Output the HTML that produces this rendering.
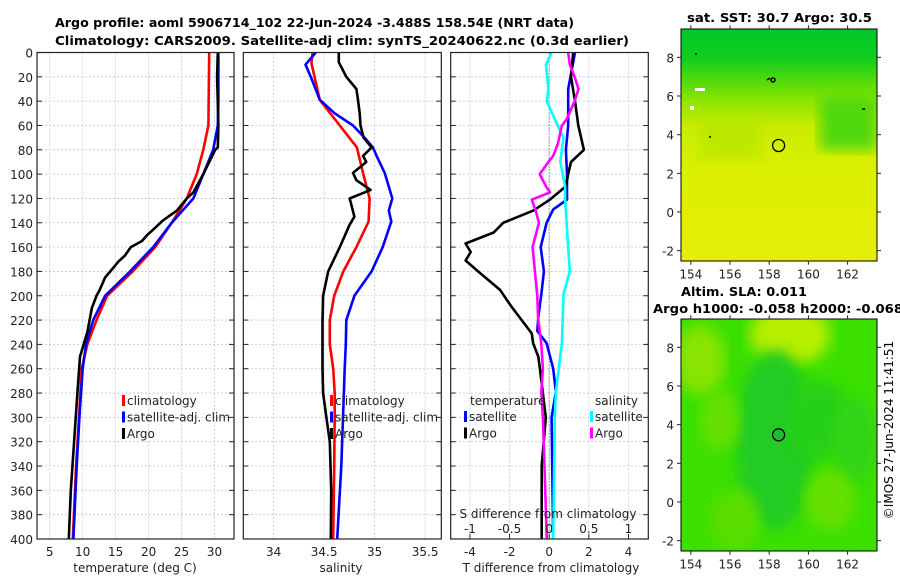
<!DOCTYPE html>
<html><head><meta charset="utf-8"><style>
body{margin:0;background:#fff}
svg{display:block;font-family:"DejaVu Sans","Liberation Sans",sans-serif}
</style></head><body>
<svg id="s" width="900" height="580" viewBox="0 0 900 580">
<defs>
<linearGradient id="sstg" x1="0" y1="0" x2="0" y2="1">
<stop offset="0" stop-color="#00c828"/><stop offset="0.12" stop-color="#10cc20"/><stop offset="0.2" stop-color="#40d810"/><stop offset="0.3" stop-color="#88e400"/><stop offset="0.42" stop-color="#c8ec00"/><stop offset="0.6" stop-color="#daf000"/><stop offset="1" stop-color="#e6ee08"/>
</linearGradient>
<filter id="bl"><feGaussianBlur stdDeviation="7"/></filter>
<clipPath id="c1"><rect x="681" y="29" width="196" height="232"/></clipPath>
<clipPath id="c2"><rect x="681" y="319" width="196" height="232"/></clipPath>
</defs>
<text x="55" y="27" textLength="519" lengthAdjust="spacingAndGlyphs" font-size="12.5" font-weight="bold">Argo profile: aoml 5906714_102 22-Jun-2024 -3.488S 158.54E (NRT data)</text>
<text x="55" y="45" textLength="574" lengthAdjust="spacingAndGlyphs" font-size="12.5" font-weight="bold">Climatology: CARS2009. Satellite-adj clim: synTS_20240622.nc (0.3d earlier)</text>
<g id="plots"></g>
<g>
<text x="687" y="22" textLength="185" lengthAdjust="spacingAndGlyphs" font-size="12.5" font-weight="bold">sat. SST: 30.7 Argo: 30.5</text>
<g clip-path="url(#c1)">
<rect x="681" y="29" width="196" height="232" fill="url(#sstg)"/>
<rect x="820" y="95" width="57" height="55" fill="#50d810" filter="url(#bl)"/>
<rect x="700" y="120" width="60" height="40" fill="#b0e400" filter="url(#bl)" opacity="0.6"/>
<rect x="695" y="88" width="10" height="3" fill="#fff"/><rect x="690" y="106" width="4" height="4" fill="#fff"/>
</g>
<rect x="681" y="29" width="196" height="232" fill="none" stroke="#000"/>
<circle cx="778.6" cy="145.5" r="6" fill="none" stroke="#000" stroke-width="1.3"/>
<path d="M767 80 l3 -2 M773 78 a2 2 0 1 0 0.1 0 M862 109 h3 M695 54 h2 M709 137 h2" stroke="#000" stroke-width="1.5" fill="none"/>
</g>
<g>
<text x="681" y="296" textLength="126" lengthAdjust="spacingAndGlyphs" font-size="12.5" font-weight="bold">Altim. SLA: 0.011</text>
<text x="653" y="313" textLength="250" lengthAdjust="spacingAndGlyphs" font-size="12.5" font-weight="bold">Argo h1000: -0.058 h2000: -0.068</text>
<g clip-path="url(#c2)">
<rect x="681" y="319" width="196" height="232" fill="#3ce000"/>
<ellipse cx="790" cy="335" rx="40" ry="30" fill="#b8ee00" filter="url(#bl)"/>
<ellipse cx="700" cy="360" rx="25" ry="35" fill="#88e400" filter="url(#bl)"/>
<ellipse cx="775" cy="440" rx="40" ry="90" fill="#20cc20" filter="url(#bl)"/>
<ellipse cx="820" cy="420" rx="30" ry="40" fill="#28d018" filter="url(#bl)"/>
<ellipse cx="855" cy="440" rx="22" ry="45" fill="#30d418" filter="url(#bl)"/>
<ellipse cx="830" cy="500" rx="25" ry="30" fill="#66e000" filter="url(#bl)"/>
<ellipse cx="720" cy="420" rx="20" ry="30" fill="#66e000" filter="url(#bl)"/>
<ellipse cx="735" cy="520" rx="25" ry="30" fill="#5ade00" filter="url(#bl)"/>
</g>
<rect x="681" y="319" width="196" height="232" fill="none" stroke="#000"/>
<circle cx="778.6" cy="434.8" r="6" fill="#22bb33" stroke="#000" stroke-width="1.3"/>
<text transform="translate(893,430) rotate(-90)" text-anchor="middle" font-size="12">©IMOS 27-Jun-2024 11:41:51</text>
</g>
<g id="maps"></g>
</svg>
<script>
// ---- data ----
const tDepthRed=[0,60,80,100,120,140,160,180,200,220,240,260,300,340,400];
const tRed=[29.2,29.07,28.3,27.3,25.8,23.5,21.0,17.6,13.7,12.1,10.7,9.85,9.44,9.0,8.5];
const tDepthBlue=[0,40,60,80,100,120,140,160,180,200,220,240,260,300,340,400];
const tBlue=[30.6,30.6,30.5,29.8,28.3,26.8,23.5,20.7,17.2,13.4,11.6,10.5,10.0,9.5,9.1,8.6];
const tDepthArgo=[0,20,60,78,80,90,100,115,120,130,138,145,150,155,160,167,172,178,185,195,200,210,230,250,280,320,360,400];
const tArgo=[30.5,30.4,30.6,30.5,30.1,29.2,28.3,26.8,25.8,24.3,22.2,20.8,19.8,19.0,17.3,16.4,15.4,14.5,13.4,12.6,12.1,11.4,10.7,9.6,9.2,8.7,8.2,7.9];
const sDepthRed=[0,9,39,60,78,99,120,139,160,180,200,220,240,260,280,300,340,400];
const sRed=[34.385,34.375,34.457,34.655,34.825,34.885,34.95,34.94,34.82,34.69,34.6,34.556,34.556,34.59,34.605,34.605,34.6,34.59];
const sDepthBlue=[0,10,20,39,50,60,70,78,85,99,120,130,139,160,180,200,220,240,260,300,340,400];
const sBlue=[34.418,34.316,34.368,34.457,34.605,34.786,34.9,34.983,35.02,35.1,35.175,35.14,35.165,35.08,34.97,34.8,34.72,34.715,34.704,34.687,34.67,34.63];
const sDepthArgo=[0,8,20,30,39,50,60,70,78,85,90,99,105,113,120,135,142,160,180,200,220,260,280,300,320,360,400];
const sArgo=[34.645,34.645,34.72,34.82,34.835,34.852,34.86,34.89,34.97,34.885,34.918,34.786,34.82,34.96,34.753,34.8,34.75,34.655,34.54,34.49,34.484,34.484,34.49,34.523,34.556,34.57,34.566];
const dtDepthSat=[0,30,60,80,100,121,129,140,160,180,199,218,229,239,260,279,300,400];
const dtSat=[1.3,0.96,0.96,0.84,0.9,0.9,0.2,-0.13,-0.43,-0.27,-0.4,-0.55,-0.6,-0.13,0.2,0.34,0.12,0.2];
const dtDepthArgo=[0,20,40,60,80,90,100,110,121,130,140,148,157,164,171,180,195,209,220,231,239,250,260,279,300,340,400];
const dtArgo=[1.21,1.1,1.3,1.47,1.75,1.1,0.96,0.84,0.03,-0.8,-2.32,-2.8,-4.22,-3.96,-4.22,-3.59,-2.49,-1.9,-1.39,-0.88,-0.81,-0.55,-0.47,-0.33,-0.17,-0.38,-0.38];
const dsDepthSat=[0,10,30,40,55,70,90,110,121,160,180,199,239,279,300,400];
const dsSat=[0.03,-0.04,-0.01,-0.03,0.07,0.18,0.14,0.2,0.2,0.24,0.26,0.18,0.16,0.085,0.07,0.05];
const dsDepthArgo=[0,10,20,30,40,55,60,75,85,90,100,110,115,121,130,140,160,180,200,218,240,260,279,300,400];
const dsArgo=[0.24,0.26,0.32,0.37,0.32,0.22,0.16,0.11,0.05,-0.01,-0.12,-0.04,0.01,-0.22,-0.17,-0.13,-0.21,-0.18,-0.15,-0.14,-0.1,-0.08,-0.1,-0.08,-0.03];
const depthTicks=[0,20,40,60,80,100,120,140,160,180,200,220,240,260,280,300,320,340,360,380,400];
const tTicks=[5,10,15,20,25,30];
const sTicks=[34,34.5,35,35.5];
const dTTicks=[-4,-2,0,2,4];
const dSTicks=[-1,-0.5,0,0.5,1];
const lonTicks=[154,156,158,160,162];
const latTicks=[-2,0,2,4,6,8];

const NS="http://www.w3.org/2000/svg";
const root=document.getElementById('plots');
const Y0=52.5,Y1=539;
const yD=d=>Y0+(Y1-Y0)*d/400;
function mk(tag,attrs,parent){const e=document.createElementNS(NS,tag);for(const k in attrs)e.setAttribute(k,attrs[k]);(parent||root).appendChild(e);return e;}
function txt(x,y,s,attrs,parent){const t=mk('text',Object.assign({x:x,y:y,'font-size':12,fill:'#222'},attrs||{}),parent);t.textContent=s;return t;}
function panel(name,x0,x1,v0,v1,ticks,labels,leftLabels){
  const g=mk('g',{});
  
  
  const xs=v=>x0+(x1-x0)*(v-v0)/(v1-v0);
  ticks.forEach(v=>{const l=mk('line',{x1:xs(v),x2:xs(v),y1:Y0,y2:Y1,stroke:'#b8c4e8','stroke-width':0.8,'stroke-dasharray':'2,2'},g);
    
    });
  depthTicks.forEach(d=>{if(d>0&&d<400){const l=mk('line',{x1:x0,x2:x1,y1:yD(d),y2:yD(d),stroke:'#b8c4e8','stroke-width':0.8,'stroke-dasharray':'2,2'},g);
    
    }
    mk('line',{x1:x0,x2:x0+5,y1:yD(d),y2:yD(d),stroke:'#222'},g);mk('line',{x1:x1-5,x2:x1,y1:yD(d),y2:yD(d),stroke:'#222'},g);
    if(leftLabels){const t=txt(x0-4,yD(d)+5,String(d),{'text-anchor':'end'},g);
      
      }
  });
  return {g,xs};
}
function series(p,depths,vals,color,name,w){
  const pts=depths.map((d,i)=>p.xs(vals[i]).toFixed(1)+','+yD(d).toFixed(1)).join(' ');
  const l=mk('polyline',{points:pts,fill:'none',stroke:color,'stroke-width':w||2.6,'stroke-linejoin':'round'},p.g);
  
  
}
function frame(p,x0,x1){mk('rect',{x:x0,y:Y0,width:x1-x0,height:Y1-Y0,fill:'none',stroke:'#222','stroke-width':1.2},p.g);}
function legend(p,x,y,items){items.forEach((it,i)=>{mk('rect',{x:x,y:y+i*16.5-10,width:3,height:11,fill:it[1]},p.g);
  const t=txt(x+5,y+i*16.5,it[0],{},p.g);
  
  });}

// panel 1 temperature
const p1=panel('temperature-panel',37,234,3.07,32.96,tTicks,null,true);
series(p1,tDepthRed,tRed,'#f00','temperature-climatology-line');
series(p1,tDepthBlue,tBlue,'#00f','temperature-satellite-line');
series(p1,tDepthArgo,tArgo,'#000','temperature-argo-line');
frame(p1,37,234);
tTicks.forEach(v=>{const t=txt(p1.xs(v),556,String(v),{'text-anchor':'middle'},p1.g);});
{const t=txt(135,572,'temperature (deg C)',{'text-anchor':'middle'},p1.g);}
legend(p1,122,405,[['climatology','#f00'],['satellite-adj. clim','#00f'],['Argo','#000']]);

// panel 2 salinity
const p2=panel('salinity-panel',243.3,441.3,33.70,35.66,sTicks,null,false);
series(p2,sDepthRed,sRed,'#f00','salinity-climatology-line');
series(p2,sDepthBlue,sBlue,'#00f','salinity-satellite-line');
series(p2,sDepthArgo,sArgo,'#000','salinity-argo-line');
frame(p2,243.3,441.3);
sTicks.forEach(v=>{const t=txt(p2.xs(v),556,String(v),{'text-anchor':'middle'},p2.g);});
{const t=txt(341,572,'salinity',{'text-anchor':'middle'},p2.g);}
legend(p2,330,405,[['climatology','#f00'],['satellite-adj. clim','#00f'],['Argo','#000']]);

// panel 3 differences
const p3=panel('difference-panel',450.7,648.3,-4.97,5.0,dTTicks,null,false);
const xsS=v=>p3.xs(v*4);
{const l=mk('line',{x1:p3.xs(0),x2:p3.xs(0),y1:Y0,y2:Y1,stroke:'#555','stroke-dasharray':'1,2'},p3.g);}
series(p3,dtDepthSat,dtSat,'#00f','t-diff-satellite-line');
series(p3,dtDepthArgo,dtArgo,'#000','t-diff-argo-line');
series(p3,dsDepthSat,dsSat.map(v=>v*4),'#0ff','s-diff-satellite-line');
series(p3,dsDepthArgo,dsArgo.map(v=>v*4),'#f0f','s-diff-argo-line');
frame(p3,450.7,648.3);
dTTicks.forEach(v=>{const t=txt(p3.xs(v),556,String(v),{'text-anchor':'middle'},p3.g);});
dSTicks.forEach(v=>{const t=txt(xsS(v),533,String(v),{'text-anchor':'middle'},p3.g);
  mk('line',{x1:xsS(v),x2:xsS(v),y1:Y1,y2:Y1-5,stroke:'#222'},p3.g);});
{const t=txt(548,518,'S difference from climatology',{'text-anchor':'middle'},p3.g);}
{const t=txt(551,572,'T difference from climatology',{'text-anchor':'middle'},p3.g);}
{const t=txt(470,405,'temperature',{},p3.g);}
{const t=txt(595,405,'salinity',{},p3.g);}
legend(p3,464,421,[['satellite','#00f'],['Argo','#000']]);
legend(p3,590,421,[['satellite','#0ff'],['Argo','#f0f']]);

// map axes
const maps=document.getElementById('maps');
function mapAxes(name,top,bot){
  const g=mk('g',{},maps);
  
  
  const lx=v=>681+(877-681)*(v-153.5)/10;
  const ly=v=>top+(bot-top)*(9.45-v)/(9.45+2.52);
  lonTicks.forEach(v=>{mk('line',{x1:lx(v),x2:lx(v),y1:bot,y2:bot+4,stroke:'#222'},g);mk('line',{x1:lx(v),x2:lx(v),y1:top,y2:top-4,stroke:'#222'},g);
    const t=txt(lx(v),bot+18,String(v),{'text-anchor':'middle'},g);});
  latTicks.forEach(v=>{mk('line',{x1:681,x2:677,y1:ly(v),y2:ly(v),stroke:'#222'},g);mk('line',{x1:877,x2:881,y1:ly(v),y2:ly(v),stroke:'#222'},g);
    const t=txt(674,ly(v)+5,String(v),{'text-anchor':'end'},g);});
}
mapAxes('sst-map-axes',29.3,260.7);
mapAxes('sla-map-axes',319.3,550.7);
</script>
</body></html>
